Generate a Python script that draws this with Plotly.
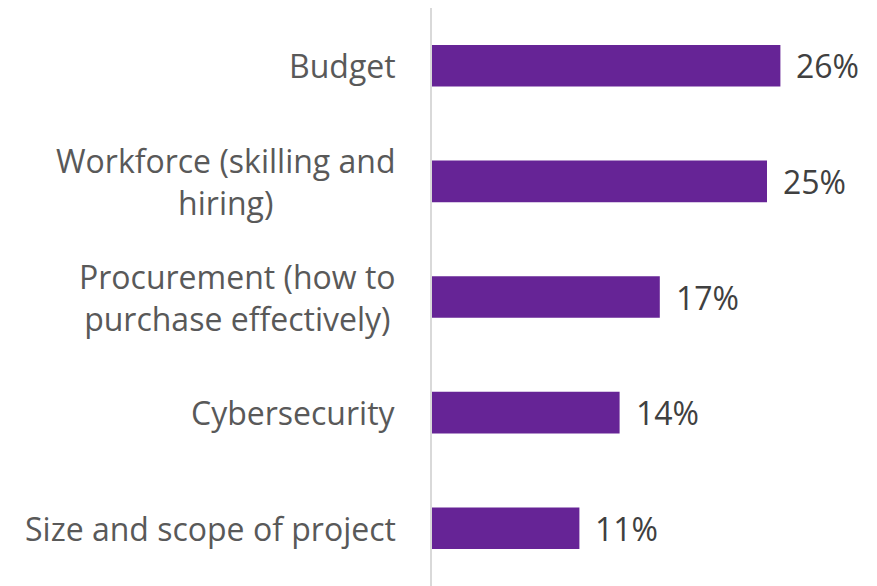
import plotly.graph_objects as go

categories = ["Budget", "Workforce (skilling and<br>hiring)",
              "Procurement (how to<br>purchase effectively)",
              "Cybersecurity", "Size and scope of project"]
values = [26, 25, 17, 14, 11]

BAR_COLOR = "#662496"
LABEL_COLOR = "#595959"
VALUE_COLOR = "#404040"
FONT = "Open Sans, sans-serif"
FONT_SIZE = 32

fig = go.Figure(go.Bar(
    x=values, y=categories, orientation="h",
    marker=dict(color=BAR_COLOR, line=dict(width=0)),
    hoverinfo="skip",
))

annotations = []
for cat, val in zip(categories, values):
    # value label just right of the bar
    annotations.append(dict(x=val, y=cat, xref="x", yref="y", text=f"{val}%",
                            showarrow=False, xanchor="left", xshift=14,
                            font=dict(family=FONT, size=FONT_SIZE, color=VALUE_COLOR)))
    # category label, wrapped lines centred on each other
    annotations.append(dict(x=0, y=cat, xref="paper", yref="y", text=cat,
                            showarrow=False, xanchor="right", align="center",
                            xshift=-34,
                            font=dict(family=FONT, size=FONT_SIZE, color=LABEL_COLOR)))

fig.update_layout(
    width=869, height=578,
    margin=dict(l=424, r=0, t=0, b=0),
    plot_bgcolor="white", paper_bgcolor="white",
    bargap=0.64, showlegend=False,
    annotations=annotations,
    xaxis=dict(range=[0, 445 / 13.4], visible=False, fixedrange=True),
    yaxis=dict(categoryorder="array", categoryarray=categories, autorange="reversed",
               showticklabels=False, showline=True, linecolor="#d9d9d9", linewidth=2,
               ticks="", showgrid=False, zeroline=False),
)

fig.write_html("out.html")
